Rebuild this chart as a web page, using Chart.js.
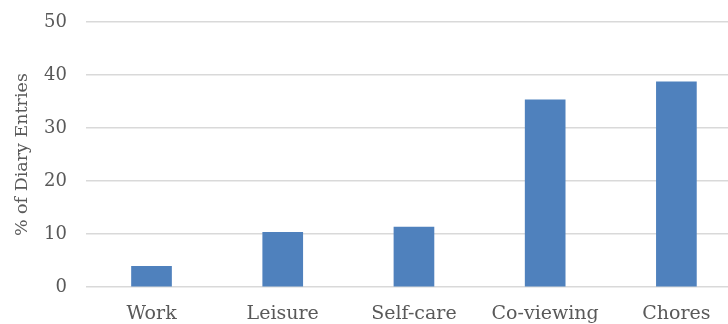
<!DOCTYPE html>
<html>
<head>
<meta charset="utf-8">
<script src="https://cdn.jsdelivr.net/npm/chart.js@4"></script>
<style>
  html, body { margin: 0; padding: 0; background: #fff; overflow: hidden; }
  #wrap { width: 728px; height: 324px; overflow: hidden; }
</style>
</head>
<body>
<div id="wrap"><canvas id="chart" width="742" height="332"></canvas></div>
<script>
const categories = ['Work', 'Leisure', 'Self-care', 'Co-viewing', 'Chores'];
const entryShare = [4.0, 10.4, 11.4, 35.4, 38.8];
const yTicks = [0, 10, 20, 30, 40, 50];

const fontFamily = "'DejaVu Serif', serif";

new Chart(document.getElementById('chart'), {
    type: 'bar',
    data: {
        labels: categories,
        datasets: [{
            data: entryShare,
            backgroundColor: '#4f81bd',
            borderWidth: 0,
            categoryPercentage: 1,
            barPercentage: 0.31
        }]
    },
    options: {
        responsive: false,
        animation: false,
        layout: { padding: { top: 22, bottom: 0, left: 12, right: 0 } },
        plugins: { legend: { display: false }, tooltip: { enabled: false } },
        scales: {
            x: {
                grid: { display: false },
                border: { display: false },
                ticks: { color: '#595959', font: { family: fontFamily, size: 19 }, padding: 7 }
            },
            y: {
                min: 0,
                max: 50,
                afterBuildTicks: axis => { axis.ticks = yTicks.map(v => ({ value: v })); },
                afterFit: axis => { axis.paddingTop = 0; axis.paddingBottom = 0; },
                grid: { color: '#d9d9d9', lineWidth: 1.5, drawTicks: false },
                border: { display: false },
                ticks: { color: '#595959', font: { family: fontFamily, size: 18 }, padding: 19 },
                title: {
                    display: true,
                    text: '% of Diary Entries',
                    color: '#595959',
                    font: { family: fontFamily, size: 17.5 },
                    padding: { top: 0, bottom: -8 }
                }
            }
        }
    }
});
</script>
</body>
</html>
